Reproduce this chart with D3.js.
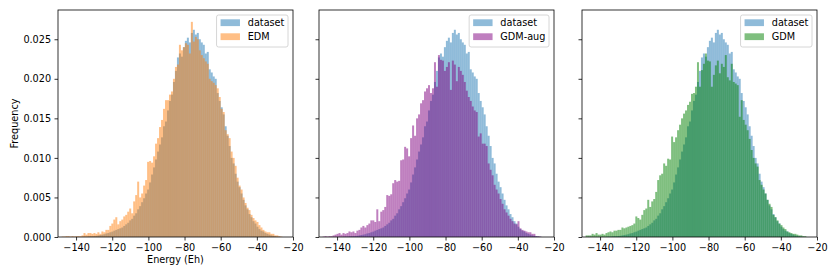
<!DOCTYPE html>
<html>
<head>
<meta charset="utf-8">
<script src="https://cdn.jsdelivr.net/npm/d3@7"></script>
<style>
  body { margin: 0; background: #fff; }
  text { font-family: "DejaVu Sans", sans-serif; fill: #000; }
</style>
</head>
<body>
<div id="chart"></div>
<script>
// histogram bins: left edge of first bin and bin width (Eh)
var binStart = -148;
var binWidth = 1.1;

// normalised frequency per bin
var dataset = [0,0,0,0,0,0,0,0,
  0.00002,0,0.00003,0.00005,0.00004,0.00008,0.0001,0.0001,
  0.00012,0.00015,0.0002,0.00025,0.0003,0.00035,0.00045,0.0005,
  0.0006,0.00068,0.0008,0.0009,0.001,0.0011,0.0012,0.0014,
  0.0016,0.0018,0.0021,0.0023,0.0027,0.003,0.0035,0.0039,
  0.0044,0.0049,0.0055,0.006,0.0069,0.0079,0.0088,0.0098,
  0.0108,0.0117,0.0126,0.014,0.0146,0.016,0.0172,0.018,
  0.0196,0.021,0.0227,0.0232,0.0228,0.024,0.0248,0.0252,
  0.0246,0.0258,0.0262,0.0256,0.0258,0.025,0.0246,0.0243,
  0.0232,0.0234,0.0212,0.0208,0.0203,0.02,0.0182,0.0172,
  0.0164,0.0155,0.014,0.0128,0.0115,0.01,0.0093,0.008,
  0.007,0.0063,0.0055,0.0047,0.004,0.0035,0.0029,0.0025,
  0.002,0.0017,0.0013,0.001,0.0008,0.0007,0.0005,0.0004,
  0.0003,0.0002,0.00015,0.0001,0.00005,0.00003,0,0];

var edm = [0.00005,0.00005,0.0001,0.0001,0.00005,0.0001,0.00005,0.0001,
  0.0001,0.0001,0.0002,0.0005,0.0003,0.0005,0.0005,0.0004,
  0.0005,0.0004,0.0006,0.0004,0.0007,0.0006,0.0009,0.0009,
  0.0014,0.0017,0.0022,0.0025,0.0016,0.002,0.0022,0.0026,
  0.0028,0.0032,0.0036,0.003,0.0045,0.0053,0.007,0.005,
  0.0055,0.0065,0.0072,0.0095,0.0096,0.0094,0.0102,0.0118,
  0.0125,0.0139,0.0148,0.0162,0.0173,0.0173,0.018,0.0184,
  0.02,0.0215,0.0218,0.0243,0.0236,0.024,0.0245,0.0243,
  0.0232,0.0272,0.0247,0.0253,0.025,0.0236,0.023,0.0226,
  0.0222,0.0219,0.02,0.0197,0.0195,0.0192,0.0188,0.0177,
  0.0162,0.0158,0.0135,0.013,0.0125,0.0108,0.01,0.009,
  0.0075,0.0065,0.006,0.005,0.0043,0.0037,0.0034,0.0028,
  0.0024,0.0021,0.0019,0.0015,0.0012,0.0009,0.0007,0.0006,
  0.0006,0.0004,0.0004,0.0002,0.0002,0.0001,0.00005,0];

var gdmAug = [0.00005,0.0001,0.00005,0.0001,0.0001,0.0002,0.0003,0.0004,
  0.0005,0.0003,0.0005,0.0004,0.0005,0.0007,0.0006,0.0007,
  0.0005,0.0008,0.0009,0.0012,0.0014,0.0012,0.0015,0.0017,
  0.0021,0.0021,0.0019,0.0035,0.002,0.0032,0.0034,0.0038,
  0.0053,0.0052,0.0054,0.0068,0.0072,0.007,0.0071,0.0097,
  0.0098,0.0114,0.0112,0.0102,0.0125,0.0141,0.0128,0.015,
  0.0155,0.0169,0.0173,0.0184,0.0188,0.0192,0.0182,0.0188,
  0.0221,0.019,0.023,0.0224,0.0223,0.021,0.0215,0.0221,
  0.0186,0.0223,0.0218,0.0197,0.0215,0.021,0.0205,0.0196,
  0.0185,0.0177,0.0172,0.0165,0.016,0.0158,0.0127,0.0131,
  0.0118,0.0118,0.0115,0.0093,0.0085,0.0078,0.0066,0.006,
  0.0055,0.0048,0.0042,0.0035,0.0031,0.0027,0.0023,0.002,
  0.0017,0.0016,0.002,0.0011,0.0009,0.0008,0.0007,0.0006,
  0.0006,0.0004,0.0004,0.0001,0.0001,0.00005,0,0];

var gdm = [0.0002,0.0002,0.0002,0.0004,0.0003,0.0005,0.0003,0.0003,
  0.0004,0.0003,0.0005,0.0006,0.0007,0.0006,0.0008,0.0008,
  0.0009,0.0009,0.0012,0.0011,0.0012,0.0013,0.0014,0.0015,
  0.0017,0.0026,0.0024,0.0022,0.0028,0.0034,0.0036,0.0047,
  0.0038,0.0045,0.0048,0.0057,0.0072,0.0078,0.008,0.0093,
  0.009,0.0099,0.0098,0.0127,0.012,0.0126,0.0135,0.0142,
  0.015,0.0156,0.016,0.0167,0.0171,0.0181,0.0182,0.019,
  0.0221,0.019,0.0211,0.0219,0.0232,0.0223,0.0222,0.019,
  0.0205,0.0217,0.0223,0.0207,0.0219,0.0215,0.023,0.0202,
  0.0198,0.0219,0.0196,0.0194,0.0192,0.0152,0.0173,0.0148,
  0.0142,0.0135,0.0124,0.011,0.01,0.0093,0.0089,0.0072,
  0.0066,0.006,0.0055,0.0047,0.0042,0.0038,0.0028,0.0025,
  0.0021,0.0017,0.0015,0.0012,0.001,0.0007,0.0006,0.0005,
  0.0004,0.0004,0.0003,0.0002,0.0002,0.0001,0.0001,0];

var xTicks = [-140, -120, -100, -80, -60, -40, -20];
var yTicks = [0, 0.005, 0.010, 0.015, 0.020, 0.025];
var models = ["EDM", "GDM-aug", "GDM"];
var modelValues = [edm, gdmAug, gdm];

function init() {
  var w = 830, h = 277;
  var top = 10, ph = 227, pw = 235;
  var lefts = [58, 319, 582];
  var colors = ["#ff7f0e", "#800080", "#008000"];
  var fs = 9.7;

  var svg = d3.select("#chart").append("svg")
    .attr("width", w).attr("height", h);

  var y = d3.scaleLinear().domain([0, 0.0287]).range([top + ph, top]);

  models.forEach(function(name, k) {
    var x = d3.scaleLinear().domain([-150, -20]).range([lefts[k], lefts[k] + pw]);
    var g = svg.append("g");

    var series = [
      { label: "dataset", vals: dataset, color: "#1f77b4" },
      { label: name, vals: modelValues[k], color: colors[k] }
    ];

    // one bar per bin, each series drawn on top of the previous one
    series.forEach(function(s) {
      g.append("g")
        .selectAll("rect")
        .data(s.vals.filter(function(v) { return v > 0; }).length ? s.vals : [])
        .enter()
        .append("rect")
        .attr("x", function(d, i) { return x(binStart + i * binWidth); })
        .attr("y", function(d) { return y(d); })
        .attr("width", function(d, i) { return x(binStart + (i + 1) * binWidth) - x(binStart + i * binWidth); })
        .attr("height", function(d) { return y(0) - y(d); })
        .attr("fill", s.color)
        .attr("fill-opacity", 0.5);
    });

    // axes
    var xAxis = d3.axisBottom(x).tickValues(xTicks).tickSize(3.5).tickPadding(3.4)
      .tickFormat(d3.format("d"));
    var yAxis = d3.axisLeft(y).tickValues(yTicks).tickSize(3.5).tickPadding(3.4)
      .tickFormat(k === 0 ? d3.format(".3f") : function() { return ""; });

    var gx = g.append("g").attr("transform", `translate(0,${top + ph})`).call(xAxis);
    var gy = g.append("g").attr("transform", `translate(${lefts[k]},0)`).call(yAxis);
    [gx, gy].forEach(function(a) {
      a.select(".domain").remove();
      a.selectAll("line").attr("stroke", "#000").attr("stroke-width", 0.8);
      a.selectAll("text").attr("font-size", fs).attr("font-family", "DejaVu Sans").attr("fill", "#000");
    });

    g.append("rect")
      .attr("x", lefts[k]).attr("y", top).attr("width", pw).attr("height", ph)
      .attr("fill", "none").attr("stroke", "#000").attr("stroke-width", 0.8);

    // legend
    var lg = g.append("g");
    var box = lg.append("rect");
    var rowY = [22.7, 36.7];
    var texts = [];
    series.forEach(function(s, i) {
      texts.push(lg.append("text").attr("y", rowY[i]).attr("dy", "0.36em")
        .attr("font-size", fs).text(s.label));
    });
    var tw = d3.max(texts, function(t) { return t.node().getComputedTextLength(); });
    var bw = 4 + 19.4 + 7.8 + tw + 3.6;
    var bx = lefts[k] + pw - 5 - bw;
    box.attr("x", bx).attr("y", 15).attr("width", bw).attr("height", 32).attr("rx", 2)
      .attr("fill", "#fff").attr("fill-opacity", 0.8)
      .attr("stroke", "#ccc").attr("stroke-width", 0.8);
    series.forEach(function(s, i) {
      lg.append("rect").attr("x", bx + 4).attr("y", rowY[i] - 3.4)
        .attr("width", 19.4).attr("height", 6.8)
        .attr("fill", s.color).attr("fill-opacity", 0.5);
      texts[i].attr("x", bx + 4 + 19.4 + 7.8);
    });
  });

  svg.append("text")
    .attr("x", 58 + pw / 2).attr("y", 262.5)
    .attr("text-anchor", "middle").attr("font-size", fs)
    .text("Energy (Eh)");

  svg.append("text")
    .attr("transform", "translate(15,123.5) rotate(-90)")
    .attr("dy", "0.35em")
    .attr("text-anchor", "middle").attr("font-size", fs)
    .text("Frequency");
}

window.onload = init;
</script>
</body>
</html>
